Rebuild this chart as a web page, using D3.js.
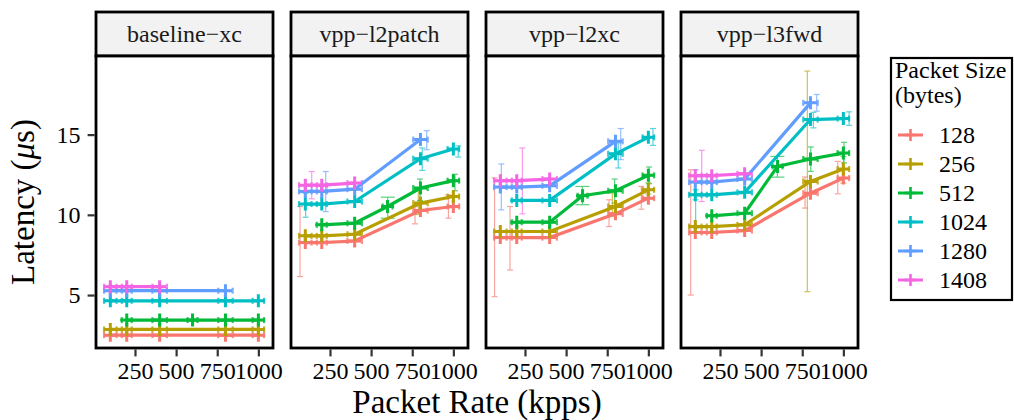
<!DOCTYPE html>
<html><head><meta charset="utf-8">
<script src="https://cdn.jsdelivr.net/npm/d3@7"></script>
<style>body{margin:0;background:#fff}svg{display:block}</style>
</head><body>
<script>
// ---- data ----
const panels = ["baseline\u2212xc","vpp\u2212l2patch","vpp\u2212l2xc","vpp\u2212l3fwd"];
const sizes = [128,256,512,1024,1280,1408];
const colors = ["#F8766D","#B79F00","#00BA38","#00BFC4","#619CFF","#F564E3"];
const rates = [100,200,400,600,800,1000];
const rateErr = [38,30,44,30,44,35];
const yTicks = [5,10,15];
const xTicks = [250,500,750,1000];
// latency per panel, per packet size, per rate (null = not measured)
const latBaseline = [
  [2.5,2.5,2.5,null,2.5,2.5],
  [2.86,2.86,2.86,null,2.86,2.86],
  [null,3.44,3.44,3.44,3.44,3.44],
  [4.64,4.64,4.64,null,4.64,4.64],
  [5.27,5.27,5.27,null,5.27,null],
  [5.52,5.52,5.52,null,null,null]];
const latL2patch = [
  [8.27,8.27,8.37,null,10.27,10.52],
  [8.69,8.69,8.79,null,10.73,11.14],
  [null,9.38,9.48,10.52,11.67,12.13],
  [10.67,10.67,10.83,null,13.5,14.1],
  [11.46,11.46,11.6,null,14.69,null],
  [11.85,11.85,11.98,null,null,null]];
const latL2xc = [
  [8.58,8.58,8.58,null,10.06,11.04],
  [8.96,8.96,8.96,null,10.52,11.56],
  [null,9.54,9.54,11.19,11.5,12.46],
  [null,10.9,10.9,null,13.8,14.83],
  [11.73,11.73,11.81,null,14.58,null],
  [12.13,12.13,12.23,null,null,null]];
const latL3fwd = [
  [8.9,8.9,9.02,null,11.35,12.29],
  [9.27,9.27,9.38,null,12.08,12.85],
  [null,9.94,10.1,13.02,13.48,13.85],
  [11.25,11.25,11.4,null,15.94,16.0],
  [12.04,12.04,12.23,null,16.98,null],
  [12.44,12.44,12.56,null,null,null]];
const latency = [latBaseline, latL2patch, latL2xc, latL3fwd];
// vertical error bars: [panel, sizeIndex, rate, low, high]
const latErr = [
  [1,0,68,6.15,10.52],[1,0,767,9.44,10.52],[1,0,970,9.79,11.25],
  [1,1,787,10.02,11.47],
  [1,2,601,9.79,11.1],[1,2,797,10.9,12.23],[1,2,1010,11.5,12.53],
  [1,3,102,9.85,11.35],[1,3,811,12.77,14.17],[1,3,1030,13.6,14.3],
  [1,4,224,10.2,12.7],[1,4,838,14.06,15.25],
  [1,5,139,11.0,12.7],
  [2,0,65,4.9,12.3],[2,0,159,6.56,10.52],[2,0,761,9.27,10.94],[2,0,957,10.35,11.77],
  [2,1,781,9.9,11.35],[2,1,1000,11.3,12.0],
  [2,2,599,10.63,11.77],[2,2,795,10.73,12.23],[2,2,1004,11.94,12.98],
  [2,3,817,12.92,14.48],[2,3,1028,14.33,15.38],
  [2,4,106,10.31,13.17],[2,4,832,13.44,15.38],
  [2,5,234,10.06,14.17],
  [3,0,72,5.0,12.81],[3,0,767,10.42,12.36],[3,0,966,11.31,13.33],
  [3,1,781,5.21,18.96],[3,1,1000,11.98,13.64],
  [3,2,599,12.35,13.64],[3,2,802,12.71,14.23],[3,2,1004,13.23,14.52],
  [3,3,102,9.17,11.56],[3,3,818,15.42,16.39],[3,3,1035,15.58,16.42],
  [3,4,102,10.94,12.81],[3,4,838,16.46,17.5],
  [3,5,139,10.83,14.02]];

// ---- layout ----
const FONT='"Liberation Serif", "Times New Roman", serif';
const W=1014,H=420;
const svg=d3.select("body").append("svg").attr("width",W).attr("height",H);
const pLeft0=96, pW=177, pGap=195, pTop=56, pBot=348, stripTop=12;
const y=d3.scaleLinear().domain([1.7,19.9]).range([pBot,pTop]);
const xBase=d3.scaleLinear().domain([13,1089]).range([0,pW]);
function txt(sel,size){return sel.style("font-family",FONT).style("font-size",size+"px").style("fill","#000");}

panels.forEach((name,pi)=>{
  const left=pLeft0+pi*pGap;
  const x=xBase.copy().range([left,left+pW]);
  const g=svg.append("g");
  // strip
  g.append("rect").attr("x",left).attr("y",stripTop).attr("width",pW).attr("height",pTop-stripTop)
    .attr("fill","#F2F2F2").attr("stroke","#000").attr("stroke-width",2.8);
  txt(g.append("text").attr("x",left+pW/2).attr("y",42).attr("text-anchor","middle"),24)
    .style("fill","#1a1a1a").text(name);
  // panel bg
  g.append("rect").attr("x",left).attr("y",pTop).attr("width",pW).attr("height",pBot-pTop).attr("fill","#fff");
  const clip="clip"+pi;
  svg.append("clipPath").attr("id",clip).append("rect").attr("x",left).attr("y",pTop).attr("width",pW).attr("height",pBot-pTop);
  const pg=g.append("g").attr("clip-path",`url(#${clip})`);
  const lat=latency[pi];
  // vertical error bars
  latErr.filter(e=>e[0]===pi).forEach(e=>{
    const cx=x(e[2]), c=colors[e[1]], cap=(Math.abs(e[2]-600)<30)?7:3;
    const eg=pg.append("g").attr("stroke",c).attr("stroke-width",1.2).attr("opacity",0.65);
    eg.append("line").attr("x1",cx).attr("x2",cx).attr("y1",y(e[3])).attr("y2",y(e[4]));
    [e[3],e[4]].forEach(v=>eg.append("line").attr("x1",cx-cap).attr("x2",cx+cap).attr("y1",y(v)).attr("y2",y(v)));
  });
  // horizontal error bars
  lat.forEach((row,si)=>{
    row.forEach((v,ri)=>{
      if(v==null) return;
      const yy=y(v), x1=x(rates[ri]-rateErr[ri]), x2=x(rates[ri]+rateErr[ri]);
      const eg=pg.append("g").attr("stroke",colors[si]).attr("stroke-width",2.2).attr("opacity",0.8);
      eg.append("line").attr("x1",x1).attr("x2",x2).attr("y1",yy).attr("y2",yy);
      [x1,x2].forEach(xx=>eg.append("line").attr("x1",xx).attr("x2",xx).attr("y1",yy-3).attr("y2",yy+3));
    });
  });
  // lines
  const line=d3.line().x(d=>x(d[0])).y(d=>y(d[1]));
  lat.forEach((row,si)=>{
    const pts=rates.map((r,ri)=>[r,row[ri]]).filter(d=>d[1]!=null);
    pg.append("path").attr("d",line(pts)).attr("fill","none").attr("stroke",colors[si]).attr("stroke-width",3.2);
  });
  // points (+)
  lat.forEach((row,si)=>{
    row.forEach((v,ri)=>{
      if(v==null) return;
      pg.append("path").attr("transform",`translate(${x(rates[ri])},${y(v)})`)
        .attr("d","M-6.5,0H6.5M0,-6.5V6.5").attr("stroke",colors[si]).attr("stroke-width",3).attr("fill","none");
    });
  });
  // border
  g.append("rect").attr("x",left).attr("y",pTop).attr("width",pW).attr("height",pBot-pTop)
    .attr("fill","none").attr("stroke","#000").attr("stroke-width",2.8);
  // x axis
  const xa=g.append("g").attr("transform",`translate(0,${pBot+1.4})`)
    .call(d3.axisBottom(x).tickValues(xTicks).tickSize(7).tickPadding(4).tickFormat(d3.format("d")));
  xa.select(".domain").remove();
  xa.selectAll(".tick line").attr("stroke","#333").attr("stroke-width",2.2);
  txt(xa.selectAll(".tick text"),24).attr("y",29.6).attr("dy",null);
  if(pi===0){
    const ya=g.append("g").attr("transform",`translate(${left-1.4},0)`)
      .call(d3.axisLeft(y).tickValues(yTicks).tickSize(7).tickPadding(7));
    ya.select(".domain").remove();
    ya.selectAll(".tick line").attr("stroke","#333").attr("stroke-width",2.2);
    txt(ya.selectAll(".tick text"),24);
  }
});

// axis titles
txt(svg.append("text").attr("x",(pLeft0+pLeft0+3*pGap+pW)/2).attr("y",413).attr("text-anchor","middle"),33)
  .text("Packet Rate (kpps)");
const yt=txt(svg.append("text").attr("transform",`translate(34,${(pTop+pBot)/2}) rotate(-90)`).attr("text-anchor","middle"),33);
yt.append("tspan").text("Latency (");
yt.append("tspan").style("font-style","italic").text("\u03BC");
yt.append("tspan").text("s)");

// legend
const lg=svg.append("g");
lg.append("rect").attr("x",891).attr("y",58).attr("width",121).attr("height",242).attr("fill","#fff")
  .attr("stroke","#000").attr("stroke-width",2.2);
txt(lg.append("text").attr("x",895).attr("y",78),24).text("Packet Size");
txt(lg.append("text").attr("x",895).attr("y",103),24).text("(bytes)");
sizes.forEach((s,i)=>{
  const yy=135+i*29;
  lg.append("line").attr("x1",898).attr("x2",923).attr("y1",yy).attr("y2",yy).attr("stroke",colors[i]).attr("stroke-width",3);
  lg.append("path").attr("transform",`translate(910.5,${yy})`).attr("d","M-6,0H6M0,-6V6").attr("stroke",colors[i]).attr("stroke-width",2.6);
  txt(lg.append("text").attr("x",939).attr("y",yy+8),24).text(s);
});
</script>
</body></html>
